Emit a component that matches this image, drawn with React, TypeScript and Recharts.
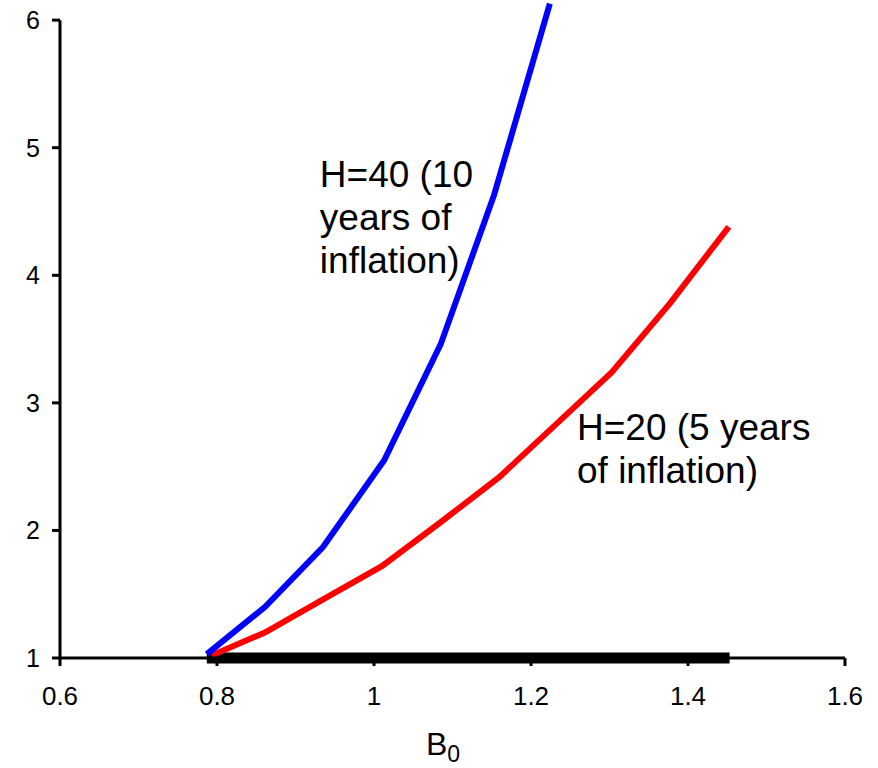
import React from 'react';
import { LineChart, Line, XAxis, YAxis, ReferenceDot, ReferenceLine } from 'recharts';

const FONT = '"Liberation Sans", Arial, sans-serif';

// H=40 curve (blue)
const blueB0 = [0.787, 0.861, 0.935, 1.013, 1.085, 1.153, 1.224];
const blueVal = [1.03, 1.4, 1.87, 2.55, 3.46, 4.63, 6.13];

// H=20 curve (red)
const redB0 = [0.793, 0.861, 0.938, 1.01, 1.084, 1.16, 1.228, 1.303, 1.377, 1.452];
const redVal = [1.02, 1.2, 1.47, 1.72, 2.06, 2.42, 2.81, 3.24, 3.78, 4.38];

// thick black baseline
const baseB0 = [0.787, 1.453];
const baseVal = [1, 1];

const xTicks = [0.6, 0.8, 1, 1.2, 1.4, 1.6];
const yTicks = [1, 2, 3, 4, 5, 6];

const blueLabel = ['H=40 (10', 'years of', 'inflation)'];
const redLabel = ['H=20 (5 years', 'of inflation)'];

const zip = (xs: number[], ys: number[]) => xs.map((x, i) => ({ x, y: ys[i] }));

const blueData = zip(blueB0, blueVal);
const redData = zip(redB0, redVal);
const baseData = zip(baseB0, baseVal);

function Annot(props: any) {
  const { viewBox, lines } = props;
  const x = viewBox?.x ?? 0;
  const y = viewBox?.y ?? 0;
  return (
    <text x={x} y={y} fontSize={37} fontFamily={FONT} fill="#000">
      {lines.map((l: string, i: number) => (
        <tspan key={i} x={x} dy={i === 0 ? 0 : 43}>
          {l}
        </tspan>
      ))}
    </text>
  );
}

function AxisTitle(props: any) {
  const { viewBox } = props;
  const x = (viewBox?.x ?? 0) + 366;
  const y = (viewBox?.y ?? 0) + 97;
  return (
    <text x={x} y={y} fontSize={32} fontFamily={FONT} fill="#000">
      B
      <tspan dy={7} fontSize={23}>
        0
      </tspan>
    </text>
  );
}

export default function App() {
  return (
    <div style={{ position: 'absolute', left: 0, top: 0 }}>
      <LineChart
        width={878}
        height={768}
        margin={{ top: 1, right: 33, bottom: 0, left: 0 }}
        style={{ fontFamily: FONT }}
      >
        <XAxis
          type="number"
          dataKey="x"
          domain={[0.6, 1.6]}
          ticks={xTicks}
          height={110}
          stroke="#000"
          strokeWidth={3}
          tickSize={8}
          tickMargin={21}
          tick={{ fill: '#000', fontSize: 26, fontFamily: FONT }}
          label={<AxisTitle />}
        />
        <YAxis
          type="number"
          dataKey="y"
          domain={[1, 6.15]}
          ticks={yTicks}
          width={60}
          axisLine={false}
          stroke="#000"
          tickLine={{ stroke: '#000', strokeWidth: 3 }}
          tickSize={8}
          tickMargin={12}
          tick={{ fill: '#000', fontSize: 25, fontFamily: FONT }}
        />
        <ReferenceLine
          segment={[
            { x: 0.6, y: 1 },
            { x: 0.6, y: 6 },
          ]}
          stroke="#000"
          strokeWidth={3}
          ifOverflow="visible"
        />
        <Line
          data={baseData}
          dataKey="y"
          type="linear"
          stroke="#000"
          strokeWidth={11}
          strokeLinecap="butt"
          dot={false}
          activeDot={false}
          isAnimationActive={false}
        />
        <Line
          data={redData}
          dataKey="y"
          type="linear"
          stroke="#ff0000"
          strokeWidth={6}
          dot={false}
          activeDot={false}
          isAnimationActive={false}
        />
        <Line
          data={blueData}
          dataKey="y"
          type="linear"
          stroke="#0000ff"
          strokeWidth={6}
          dot={false}
          activeDot={false}
          isAnimationActive={false}
        />
        <ReferenceDot
          x={0.931}
          y={4.69}
          r={0}
          fill="none"
          stroke="none"
          label={<Annot lines={blueLabel} />}
        />
        <ReferenceDot
          x={1.2586}
          y={2.711}
          r={0}
          fill="none"
          stroke="none"
          label={<Annot lines={redLabel} />}
        />
      </LineChart>
    </div>
  );
}
